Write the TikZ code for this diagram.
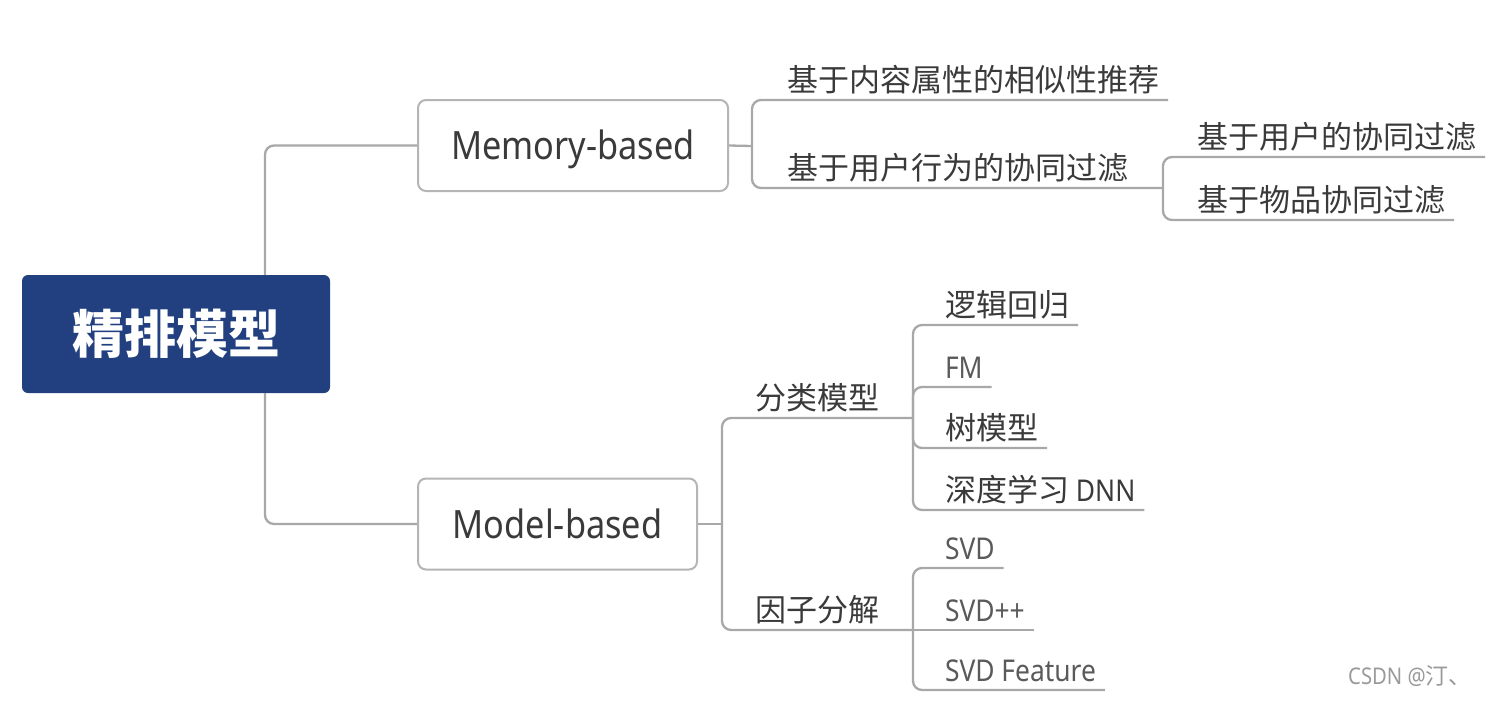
\documentclass[tikz,border=0pt]{standalone}
\usepackage{fontspec}
\setmainfont{Noto Sans CJK SC}
\newfontfamily\latinf{Noto Sans}[FakeStretch=0.88]
\definecolor{rootblue}{HTML}{22407F}
\definecolor{linegray}{HTML}{A8A8A8}
\definecolor{boxgray}{HTML}{B5B5B5}
\definecolor{txt}{HTML}{3A3A3A}
\definecolor{lighttxt}{HTML}{5A5A5A}
\definecolor{wm}{HTML}{9A9A9A}
\begin{document}
\begin{tikzpicture}[x=1pt,y=-1pt,
  conn/.style={draw=linegray, line width=2.3pt, rounded corners=9pt},
  rootbox/.style={fill=rootblue, rounded corners=6pt, minimum width=308pt, minimum height=118pt, text=white, font=\fontsize{52}{52}\selectfont\bfseries, inner sep=0pt},
  mainbox/.style={draw=boxgray, line width=2pt, fill=white, rounded corners=8pt, minimum height=91pt, text=txt, font=\latinf\fontsize{39}{39}\selectfont, inner sep=0pt, text height=28pt, text depth=0pt},
  leaf/.style={anchor=south west, inner xsep=0pt, inner ysep=9pt, outer sep=0pt, text height=24pt, text depth=0pt, text=txt, font=\fontsize{31}{31}\selectfont},
  latin/.style={leaf, text=lighttxt, font=\latinf\fontsize{30}{30}\selectfont}
]
\useasboundingbox (0,0) rectangle (1502,702);
\fill[white] (0,0) rectangle (1502,702);

% main nodes
\node[rootbox] (root) at (176,334) {精排模型};
\node[mainbox, minimum width=310pt] (mem) at (573,145.5) {Memory-based};
\node[mainbox, minimum width=279pt] (mod) at (557.5,524) {Model-based};

% junctions
\coordinate (jr) at (265,334);
\coordinate (jm) at (752,146);
\coordinate (jc) at (1163,188);
\coordinate (jmod) at (722,524);
\coordinate (jm1) at (913,418);
\coordinate (jm2) at (913,630);

% leaves
\node[leaf] (c1) at (787,100) {基于内容属性的相似性推荐};
\node[leaf] (c2) at (787,188) {基于用户行为的协同过滤};
\node[leaf] (g1) at (1197,157) {基于用户的协同过滤};
\node[leaf] (g2) at (1197,220) {基于物品协同过滤};
\node[leaf] (m1) at (755,418) {分类模型};
\node[leaf] (m2) at (755,630) {因子分解};
\node[leaf] (k1) at (945,325) {逻辑回归};
\node[latin] (k2) at (945,387) {FM};
\node[leaf] (k3) at (945,448) {树模型};
\node[leaf] (k4) at (945,510) {深度学习 {\latinf\fontsize{30}{30}\selectfont DNN}};
\node[latin] (s1) at (945,568) {SVD};
\node[latin] (s2) at (945,630) {SVD++};
\node[latin] (s3) at (945,690) {SVD Feature};

% connectors
\draw[conn] (root.north -| jr) |- (mem.west);
\draw[conn] (root.south -| jr) |- (mod.west);
\draw[conn] (mem.east) -- (jm);
\draw[conn] (jm) |- ([xshift=9pt]c1.south east);
\draw[conn] (jm) |- (jc);
\draw[conn] (jc) |- ([xshift=9pt]g1.south east);
\draw[conn] (jc) |- ([xshift=9pt]g2.south east);
\draw[conn] (mod.east) -- (jmod);
\draw[conn] (jmod) |- (jm1);
\draw[conn] (jmod) |- (jm2);
\draw[conn] (jm1) |- ([xshift=9pt]k1.south east);
\draw[conn] (jm1) |- ([xshift=9pt]k2.south east);
\draw[conn] (jm1) |- ([xshift=9pt]k3.south east);
\draw[conn] (jm1) |- ([xshift=9pt]k4.south east);
\draw[conn] (jm2) |- ([xshift=9pt]s1.south east);
\draw[conn] (jm2) -- ([xshift=9pt]s2.south east);
\draw[conn] (jm2) |- ([xshift=9pt]s3.south east);

% watermark
\node[anchor=west, inner sep=0pt, text=wm, font=\fontsize{23}{23}\selectfont] (wmk) at (1348,676) {{\latinf CSDN @}汀、};
\end{tikzpicture}
\end{document}
